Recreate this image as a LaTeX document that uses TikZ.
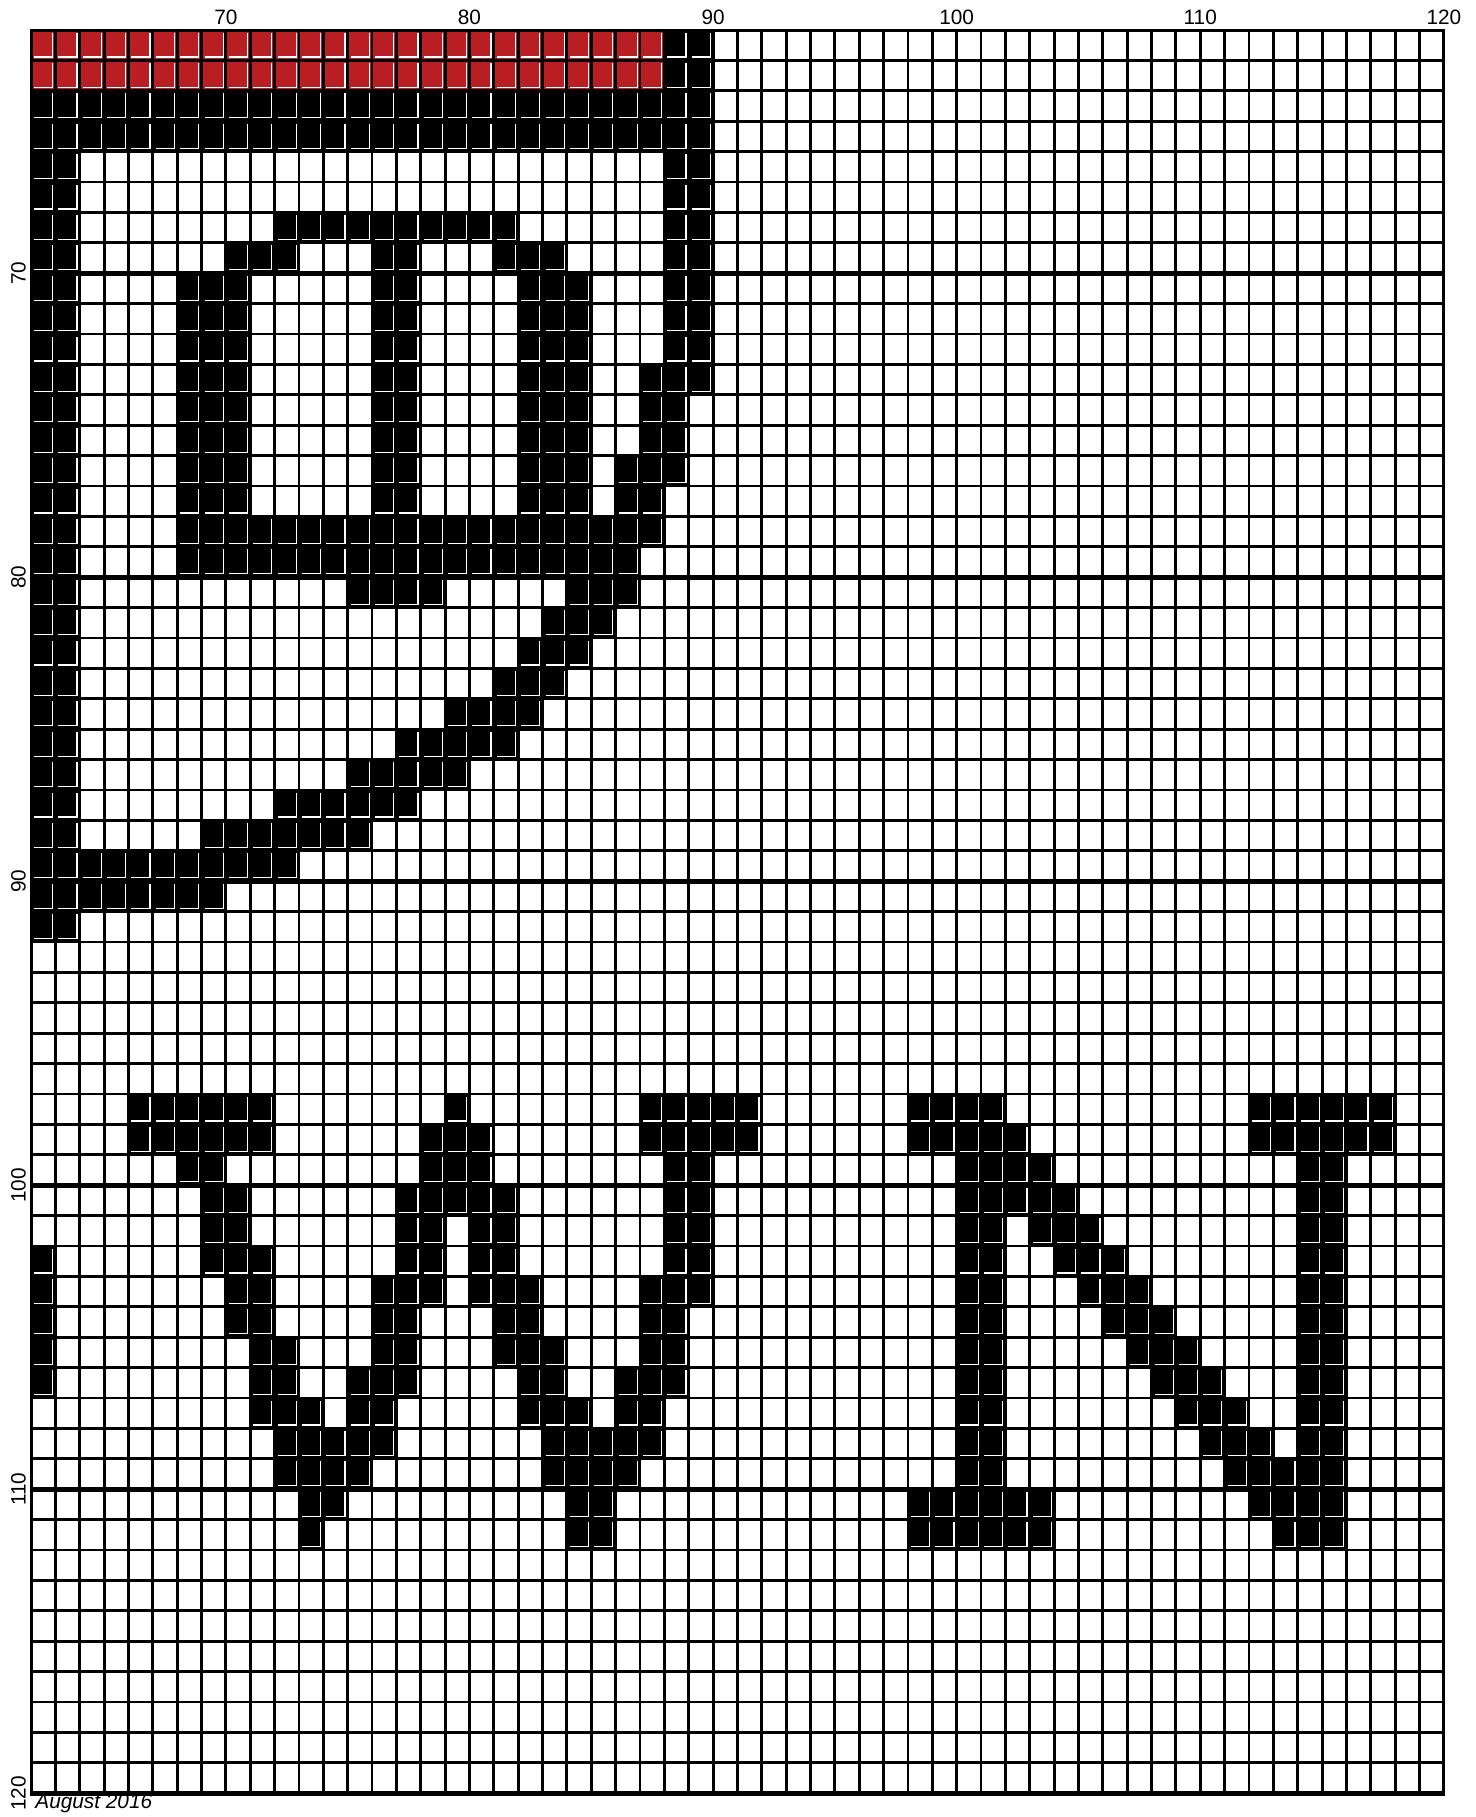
\documentclass[tikz,border=0pt]{standalone}
\usepackage{fontspec}
\setmainfont{Liberation Sans}
\definecolor{chartred}{RGB}{185,30,35}
\tikzset{
  hilite/.style={draw=white, line width=0.6pt},
  gridthin/.style={line width=1.45pt},
  gridthick/.style={line width=2.3pt},
  axislabel/.style={font=\fontsize{10.4}{12}\selectfont, inner sep=0pt},
}
\newcommand\pxcell[3]{%
  \fill[#3] ({31+24.36*#2},{30+30.4*#1}) rectangle ({55.36+24.36*#2},{60.4+30.4*#1});
  \draw[hilite] ({34+24.36*#2},{57+30.4*#1}) -- ({52.6+24.36*#2},{57+30.4*#1}) -- ({52.6+24.36*#2},{32.5+30.4*#1});
}
\begin{document}
\begin{tikzpicture}[x=0.5pt,y=-0.5pt]
\useasboundingbox[fill=white] (0,0) rectangle (1476,1817);
% red rows
\foreach \r in {0,1}{\foreach \c in {0,...,25}{\pxcell{\r}{\c}{chartred}}}
% black cells: row/first/last
\foreach \r/\a/\b in {
0/26/27, 1/26/27, 2/0/27, 3/0/27,
4/0/1, 4/26/27, 5/0/1, 5/26/27,
6/0/1, 6/10/19, 6/26/27,
7/0/1, 7/8/10, 7/14/15, 7/19/21, 7/26/27,
8/0/1, 8/6/8, 8/14/15, 8/20/22, 8/26/27,
9/0/1, 9/6/8, 9/14/15, 9/20/22, 9/26/27,
10/0/1, 10/6/8, 10/14/15, 10/20/22, 10/26/27,
11/0/1, 11/6/8, 11/14/15, 11/20/22, 11/25/27,
12/0/1, 12/6/8, 12/14/15, 12/20/22, 12/25/26,
13/0/1, 13/6/8, 13/14/15, 13/20/22, 13/25/26,
14/0/1, 14/6/8, 14/14/15, 14/20/22, 14/24/26,
15/0/1, 15/6/8, 15/14/15, 15/20/22, 15/24/25,
16/0/1, 16/6/25,
17/0/1, 17/6/24,
18/0/1, 18/13/16, 18/22/24,
19/0/1, 19/21/23,
20/0/1, 20/20/22,
21/0/1, 21/19/21,
22/0/1, 22/17/20,
23/0/1, 23/15/19,
24/0/1, 24/13/17,
25/0/1, 25/10/15,
26/0/1, 26/7/13,
27/0/10,
28/0/7,
29/0/1,
35/4/9, 35/17/17, 35/25/29, 35/36/39, 35/50/55,
36/4/9, 36/16/18, 36/25/29, 36/36/40, 36/50/55,
37/6/7, 37/16/18, 37/26/27, 37/38/41, 37/52/53,
38/7/8, 38/15/19, 38/26/27, 38/38/42, 38/52/53,
39/7/8, 39/15/16, 39/18/19, 39/26/27, 39/38/39, 39/41/43, 39/52/53,
40/0/0, 40/7/9, 40/15/16, 40/18/19, 40/26/27, 40/38/39, 40/42/44, 40/52/53,
41/0/0, 41/8/9, 41/14/16, 41/18/20, 41/25/27, 41/38/39, 41/43/45, 41/52/53,
42/0/0, 42/8/9, 42/14/15, 42/19/20, 42/25/26, 42/38/39, 42/44/46, 42/52/53,
43/0/0, 43/9/10, 43/14/15, 43/19/21, 43/25/26, 43/38/39, 43/45/47, 43/52/53,
44/0/0, 44/9/10, 44/13/15, 44/20/21, 44/24/26, 44/38/39, 44/46/48, 44/52/53,
45/9/11, 45/13/14, 45/20/22, 45/24/25, 45/38/39, 45/47/49, 45/52/53,
46/10/14, 46/21/25, 46/38/39, 46/48/50, 46/52/53,
47/10/13, 47/21/24, 47/38/39, 47/49/53,
48/11/12, 48/22/23, 48/36/41, 48/50/53,
49/11/11, 49/22/23, 49/36/41, 49/51/53}{%
  \foreach \c in {\a,...,\b}{\pxcell{\r}{\c}{black}}}
% grid
\foreach \c in {1,...,57}{\draw[gridthin] ({31+24.36*\c},30) -- ({31+24.36*\c},1793.2);}
\foreach \r in {1,...,57}{\draw[gridthin] (31,{30+30.4*\r}) -- (1443.9,{30+30.4*\r});}
\foreach \r in {8,18,28,38,48}{\draw[gridthick] (31,{30+30.4*\r}) -- (1443.9,{30+30.4*\r});}
\draw[line width=1.5pt] (31,30) rectangle (1443.9,1793.2);
\draw[gridthick] (30,1793.2) -- (1444.6,1793.2);
% labels
\foreach \c/\t in {8/70,18/80,28/90,38/100,48/110,58/120}{
  \node[axislabel, name=top\t] at ({31+24.36*\c},17.5) {\t};}
\foreach \r/\t in {8/70,18/80,28/90,38/100,48/110,58/120}{
  \node[axislabel, rotate=90, name=left\t] at (18.5,{30+30.4*\r}) {\t};}
\node[axislabel, font=\fontsize{10.4}{12}\selectfont\itshape, anchor=base west, name=date] at (35,1808) {August 2016};
\end{tikzpicture}
\end{document}
